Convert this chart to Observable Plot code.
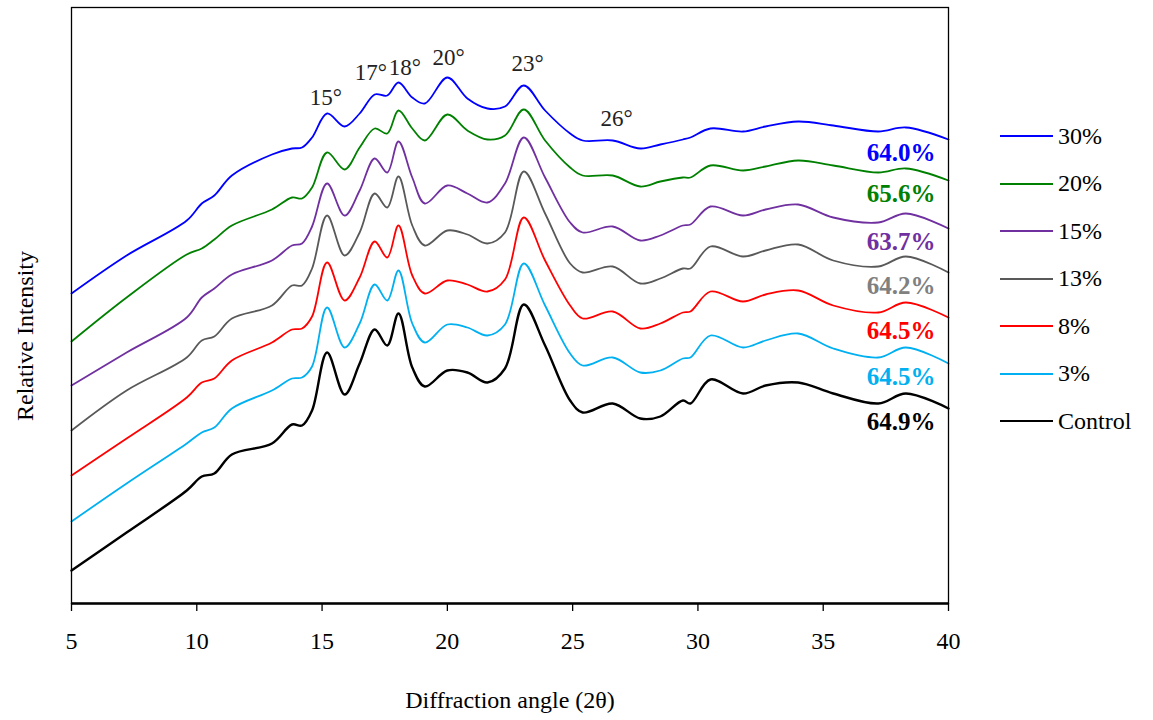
<!DOCTYPE html>
<html><head><meta charset="utf-8">
<script src="https://cdn.jsdelivr.net/npm/d3@7"></script>
<script src="https://cdn.jsdelivr.net/npm/@observablehq/plot@0.6"></script>
<style>
body{margin:0;background:#fff;font-family:"Liberation Serif","Times New Roman",serif;}
#wrap{position:relative;width:1153px;height:720px;}
#wrap svg text{font-family:"Liberation Serif","Times New Roman",serif;}
#legend{position:absolute;left:1000px;top:0;width:153px;height:720px;}
.item{position:absolute;left:0;height:30px;display:flex;align-items:center;white-space:nowrap;font-size:24px;color:#000;}
.item svg{margin-right:5px;}
#ylabel{position:absolute;left:25px;top:336px;transform:translate(-50%,-50%) rotate(-90deg);white-space:nowrap;font-size:24px;color:#000;}
</style></head><body><div id="wrap"><div id="legend"></div><div id="ylabel">Relative Intensity</div></div>
<script>
// Diffraction angles (2θ) at which the patterns were read
const angles = [5,7.2,9.6,10.2,10.7,11.4,13.0,13.8,14.2,14.6,15.2,15.9,16.5,17.1,17.6,18.05,18.6,19.1,20.0,20.8,21.6,22.3,23.05,23.9,24.9,25.4,26.6,27.7,28.5,29.4,29.7,30.5,31.8,32.7,34.0,35.4,37.2,38.3,40];

// Relative intensity (arbitrary units, stacked patterns)
const control = [33,71,113,127,130,149,160,179,178,193,251,209,240,274,258,290,236,217,233,231,221,235,299,258,203,191,200,185,187,203,200,224,210,218,221,210,200,210,195];
const s3  = [82,120,160,171,176,195,213,225,226,237,296,256,280,319,303,333,280,261,279,276,268,279,340,298,250,238,246,231,233,245,246,268,256,263,270,255,246,256,240];
const s8  = [128,165,206,221,225,243,261,274,275,287,341,303,326,362,346,378,328,310,323,319,312,324,386,343,298,285,292,275,280,291,292,312,302,309,313,298,291,301,286];
const s13 = [173,213,246,263,267,285,298,318,318,335,388,348,371,410,396,427,378,358,373,369,360,371,432,390,340,331,337,320,325,335,335,357,347,353,359,343,337,347,331];
const s15 = [218,251,286,306,315,329,343,358,360,377,420,388,413,445,431,462,426,400,418,410,401,420,466,426,381,371,377,363,368,378,379,397,388,394,399,386,381,390,375];
const s20 = [262,306,349,355,364,378,394,406,405,416,451,434,456,475,470,493,475,463,489,473,464,468,494,463,436,428,428,417,422,426,426,438,433,437,443,438,431,435,423];
const s30 = [310,348,383,400,408,428,449,455,456,466,490,477,490,509,508,521,506,500,526,505,495,497,518,493,470,463,463,455,459,464,466,475,472,477,482,478,472,476,464];

const seriesNames = ["30%","20%","15%","13%","8%","3%","Control"];
const seriesValues = [s30, s20, s15, s13, s8, s3, control];
const crystallinity = ["64.0%","65.6%","63.7%","64.2%","64.5%","64.5%","64.9%"];

// Peak annotations (angle labels) in data units
const peakLabels = ["15°","17°","18°","20°","23°","26°"];
const peakLabelX = [15.15,16.95,18.3,20.05,23.2,26.75];
const peakLabelY = [506,531,536,546,540,485];

// styles
const lineColors  = ["#0000FF","#008000","#7030A0","#595959","#FF0000","#00B0F0","#000000"];
const labelColors = ["#0000FF","#008000","#7030A0","#808080","#FF0000","#00B0F0","#000000"];
const lineWidths  = [1.8,1.8,1.8,1.8,1.8,1.8,2.4];
const font = "Liberation Serif, Times New Roman, serif";

const rows = [];
seriesNames.forEach((name, k) => {
  angles.forEach((a, i) => rows.push({series: name, angle: a, intensity: seriesValues[k][i]}));
});
const ends = seriesNames.map((name, k) => ({series: name, angle: angles[angles.length-1], intensity: seriesValues[k][angles.length-1], label: crystallinity[k], color: labelColors[k]}));
const peaks = peakLabels.map((t, i) => ({t, x: peakLabelX[i], y: peakLabelY[i]}));

const lineMarks = seriesNames.map((name, k) =>
  Plot.line(rows.filter(d => d.series === name), {x: "angle", y: "intensity", stroke: lineColors[k], strokeWidth: lineWidths[k], curve: "catmull-rom"})
);

const chart = Plot.plot({
  width: 1153, height: 720,
  marginLeft: 71, marginRight: 205, marginTop: 7, marginBottom: 117,
  style: {fontFamily: font, fontSize: "24px", color: "#000", background: "#fff"},
  x: {domain: [5, 40]},
  y: {domain: [0, 596], axis: null},
  marks: [
    ...lineMarks.reverse(),
    Plot.frame({stroke: "#000", strokeWidth: 1.3}),
    Plot.ruleY([0], {stroke: "#000", strokeWidth: 2.4}),
    Plot.axisX({ticks: [5,10,15,20,25,30,35,40], tickSize: 8, tickPadding: 20, fontSize: 24, fontFamily: font, label: null, tickFormat: d => String(d), stroke: "#000", strokeWidth: 1.3}),
    Plot.text(ends, {x: "angle", y: "intensity", text: "label", fill: d => d.color, fontFamily: font, fontWeight: "bold", fontSize: 25, textAnchor: "end", dx: -13, dy: 13}),
    Plot.text(peaks, {x: "x", y: "y", text: "t", fill: "#222", fontFamily: font, fontSize: 23}),
    Plot.text(["Diffraction angle (2θ)"], {frameAnchor: "bottom", dy: 104, fontFamily: font, fontSize: 24, fill: "#000"})
  ]
});
document.getElementById("wrap").prepend(chart);

const legend = document.getElementById("legend");
seriesNames.forEach((name, k) => {
  const yc = 136 + k * 47.5;
  const div = document.createElement("div");
  div.className = "item";
  div.style.top = (yc - 15) + "px";
  div.innerHTML = `<svg width="53" height="4"><line x1="0" x2="53" y1="2" y2="2" stroke="${lineColors[k]}" stroke-width="2.2"/></svg><span>${name}</span>`;
  legend.appendChild(div);
});
</script></body></html>
